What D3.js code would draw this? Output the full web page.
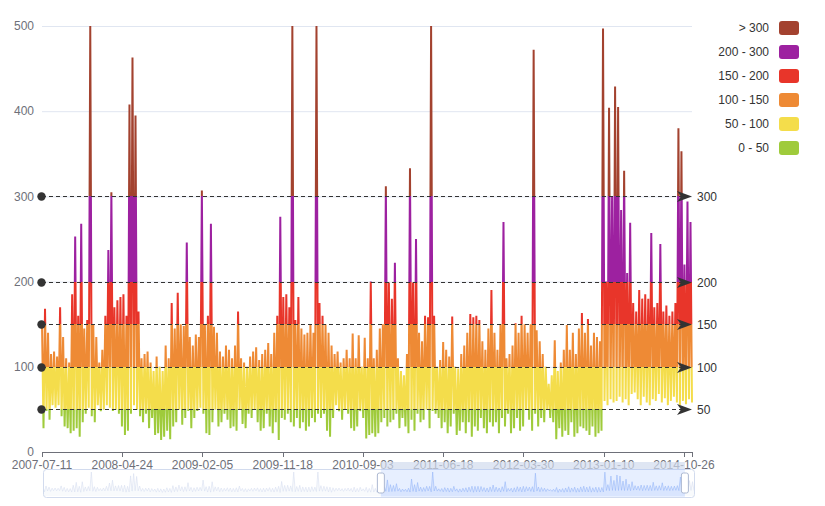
<!DOCTYPE html>
<html><head><meta charset="utf-8">
<script src="https://cdn.jsdelivr.net/npm/d3@7/dist/d3.min.js"></script>
<style>
body{margin:0;background:#fff}
svg{display:block;font-family:"Liberation Sans",Arial,Helvetica,sans-serif}
</style>
</head><body>
<svg id="c" width="825" height="506"></svg>
<script>
// Beijing AQI, daily readings (envelope: alternating local high / local low)
const aqi = [
150,28,168,48,140,38,115,55,118,52,112,55,170,42,135,30,110,28,105,22,
185,25,253,28,160,18,268,35,145,45,155,52,500,42,150,35,135,55,105,48,
120,50,160,55,237,52,305,48,170,50,178,45,182,30,185,20,160,25,408,45,
463,55,395,50,165,42,110,35,115,45,118,28,105,40,95,20,112,22,100,14,
95,18,125,25,110,15,175,30,145,35,187,50,150,32,148,40,246,48,135,28,
125,40,138,48,135,52,307,45,150,22,160,20,268,35,147,50,140,30,118,35,
112,45,125,38,120,28,110,30,125,25,165,50,110,33,105,28,100,45,112,40,
118,50,123,35,108,25,115,28,120,45,128,30,115,22,140,35,160,14,276,40,
182,38,185,45,170,35,500,30,155,40,182,28,145,35,138,25,140,30,150,40,
140,35,500,45,175,40,160,45,150,25,140,18,125,40,115,55,118,48,105,38,
110,50,120,45,110,28,139,25,110,30,137,48,100,40,134,16,110,20,200,22,
110,18,120,22,145,35,150,40,312,30,199,35,180,38,222,45,110,28,95,40,
90,30,115,22,333,38,199,25,250,45,140,35,130,38,160,50,158,28,500,48,
160,45,100,40,108,28,129,35,120,22,112,30,159,45,100,20,98,25,115,35,
125,22,140,35,162,18,158,30,160,25,155,40,130,28,120,22,145,35,190,30,
140,35,120,22,150,40,270,30,110,45,115,22,125,28,151,40,140,25,160,30,
150,50,140,38,150,25,472,45,143,30,130,40,115,35,100,50,80,40,90,35,
131,15,95,28,105,18,120,25,149,20,120,35,140,18,115,22,145,30,163,28,
140,25,156,20,125,30,140,18,135,22,130,25,497,60,200,55,404,62,300,58,
429,60,405,65,284,58,330,62,210,55,269,68,175,70,165,62,190,55,180,65,
185,58,180,55,257,62,170,60,175,68,244,58,165,63,172,55,160,60,165,65,
175,58,380,55,353,60,220,56,294,62,270,58
];
const xTickLabels = ["2007-07-11","2008-04-24","2009-02-05","2009-11-18","2010-09-03",
                     "2011-06-18","2012-03-30","2013-01-10","2014-10-26"];
const yTickValues = [0,100,200,300,400,500];
const markLineValues = [50,100,150,200,300];
const pieceLabels = ["> 300","200 - 300","150 - 200","100 - 150","50 - 100","0 - 50"];
const pieceLower  = [300,200,150,100,50,0];
const pieceUpper  = [500,300,200,150,100,50];
const pieceColors = ["#a3422f","#9d21a0","#e8352a","#ee8a35","#f4dd4b","#9fcb3b"];
const zoomRange = [51.9, 98.6]; // percent

const svg = d3.select("#c");
const grid = {left:42, right:692, top:26, bottom:452};
const n = aqi.length;

const x = d3.scaleLinear().domain([0, n-1]).range([grid.left, grid.right]);
const y = d3.scaleLinear().domain([0, 500]).range([grid.bottom, grid.top]);

// split lines
svg.append("g").selectAll("line").data(yTickValues.filter(v=>v>0)).join("line")
  .attr("x1", grid.left).attr("x2", grid.right)
  .attr("y1", d=>y(d)+0.5).attr("y2", d=>y(d)+0.5)
  .attr("stroke", "#e0e6f1").attr("stroke-width", 1);

// y labels
svg.append("g").selectAll("text").data(yTickValues).join("text")
  .attr("x", grid.left-8).attr("y", d=>y(d))
  .attr("dy","0.35em").attr("text-anchor","end")
  .attr("font-size",12).attr("fill","#6e7079").text(d=>d);

// gradient by value
const defs = svg.append("defs");
const grad = defs.append("linearGradient").attr("id","vm")
  .attr("gradientUnits","userSpaceOnUse")
  .attr("x1",0).attr("x2",0).attr("y1",y(0)).attr("y2",y(500));
for (let i = pieceLower.length-1; i >= 0; i--) {
  grad.append("stop").attr("offset", pieceLower[i]/500).attr("stop-color", pieceColors[i]);
  grad.append("stop").attr("offset", pieceUpper[i]/500).attr("stop-color", pieceColors[i]);
}
defs.append("clipPath").attr("id","clip").append("rect")
  .attr("x", grid.left-2).attr("y", grid.top).attr("width", grid.right-grid.left+4).attr("height", grid.bottom-grid.top);

// series line
const line = d3.line().x((d,i)=>x(i)).y(d=>y(d));
svg.append("path").datum(aqi)
  .attr("clip-path","url(#clip)")
  .attr("d", line).attr("fill","none")
  .attr("stroke","url(#vm)").attr("stroke-width",2)
  .attr("stroke-linejoin","bevel");

// x axis
const tickStep = (n-1)/8.1;
const tickIdx = xTickLabels.map((_,k)=>k*tickStep);
svg.append("line").attr("x1",grid.left).attr("x2",grid.right)
  .attr("y1",grid.bottom+0.5).attr("y2",grid.bottom+0.5)
  .attr("stroke","#6e7079");
svg.append("g").selectAll("line").data(tickIdx.concat([n-1])).join("line")
  .attr("x1",d=>Math.round(x(d))+0.5).attr("x2",d=>Math.round(x(d))+0.5)
  .attr("y1",grid.bottom).attr("y2",grid.bottom+5).attr("stroke","#6e7079");
svg.append("g").selectAll("text").data(xTickLabels).join("text")
  .attr("x",(d,k)=>x(tickIdx[k])).attr("y",grid.bottom+17)
  .attr("text-anchor","middle").attr("font-size",12).attr("fill","#6e7079")
  .text(d=>d);

// mark lines
const ml = svg.append("g");
markLineValues.forEach(v=>{
  const yy = Math.round(y(v))+0.5;
  ml.append("line").attr("x1",grid.left).attr("x2",grid.right-8)
    .attr("y1",yy).attr("y2",yy).attr("stroke","#333").attr("stroke-dasharray","4,3");
  ml.append("circle").attr("cx",grid.left-0.5).attr("cy",yy).attr("r",4.2).attr("fill","#333");
  const t = grid.right;
  ml.append("path").attr("d",`M${t},${yy} L${t-15},${yy-5.5} L${t-11},${yy} L${t-15},${yy+5.5} Z`)
    .attr("fill","#333");
  ml.append("text").attr("x",t+5).attr("y",yy).attr("dy","0.35em")
    .attr("font-size",12).attr("fill","#333").text(v);
});

// legend (visual map pieces)
const lg = svg.append("g");
pieceLabels.forEach((lab,i)=>{
  const cy = 28 + i*24;
  lg.append("rect").attr("x",779).attr("y",cy-7).attr("width",20).attr("height",14)
    .attr("rx",3).attr("fill",pieceColors[i]);
  lg.append("text").attr("x",769).attr("y",cy).attr("dy","0.35em")
    .attr("text-anchor","end").attr("font-size",12).attr("fill","#333").text(lab);
});

// data zoom slider
const dz = {left:43, right:694, top:469, bottom:497};
const sx = d3.scaleLinear().domain([0,n-1]).range([dz.left, dz.right]);
const sy = d3.scaleLinear().domain([0, d3.max(aqi)]).range([dz.bottom-4, dz.top+3]);
const x0 = dz.left + (dz.right-dz.left)*zoomRange[0]/100;
const x1 = dz.left + (dz.right-dz.left)*zoomRange[1]/100;
const g = svg.append("g");
g.append("rect").attr("x",dz.left+0.5).attr("y",dz.top+0.5)
  .attr("width",dz.right-dz.left).attr("height",dz.bottom-dz.top)
  .attr("rx",3).attr("fill","none").attr("stroke","#d2dbee");
const area = d3.area().x((d,i)=>sx(i)).y0(dz.bottom-1).y1(d=>sy(d));
const sline = d3.line().x((d,i)=>sx(i)).y(d=>sy(d));
defs.append("clipPath").attr("id","selc").append("rect")
  .attr("x",x0).attr("y",dz.top).attr("width",x1-x0).attr("height",dz.bottom-dz.top);
defs.append("clipPath").attr("id","unselc").append("path")
  .attr("d",`M${dz.left},${dz.top}H${x0}V${dz.bottom}H${dz.left}Z M${x1},${dz.top}H${dz.right}V${dz.bottom}H${x1}Z`);
const ug = g.append("g").attr("clip-path","url(#unselc)");
ug.append("path").datum(aqi).attr("d",area).attr("fill","#d2dbee").attr("fill-opacity",0.15);
ug.append("path").datum(aqi).attr("d",sline).attr("fill","none").attr("stroke","#d2dbee").attr("stroke-width",0.5);
const sg = g.append("g").attr("clip-path","url(#selc)");
sg.append("path").datum(aqi).attr("d",area).attr("fill","#8fb0f7").attr("fill-opacity",0.15);
sg.append("path").datum(aqi).attr("d",sline).attr("fill","none").attr("stroke","#8fb0f7").attr("stroke-width",0.5);
g.append("rect").attr("x",x0).attr("y",dz.top).attr("width",x1-x0).attr("height",dz.bottom-dz.top)
  .attr("fill","rgba(135,175,255,0.2)");
g.append("rect").attr("x",x0).attr("y",dz.top-7).attr("width",x1-x0).attr("height",7)
  .attr("fill","#d2dbee").attr("fill-opacity",0.7);
[x0,x1].forEach(hx=>{
  g.append("rect").attr("x",hx-3.5).attr("y",473).attr("width",7).attr("height",20)
    .attr("rx",2).attr("fill","#fff").attr("stroke","#acb8d1");
});
</script>
</body></html>
